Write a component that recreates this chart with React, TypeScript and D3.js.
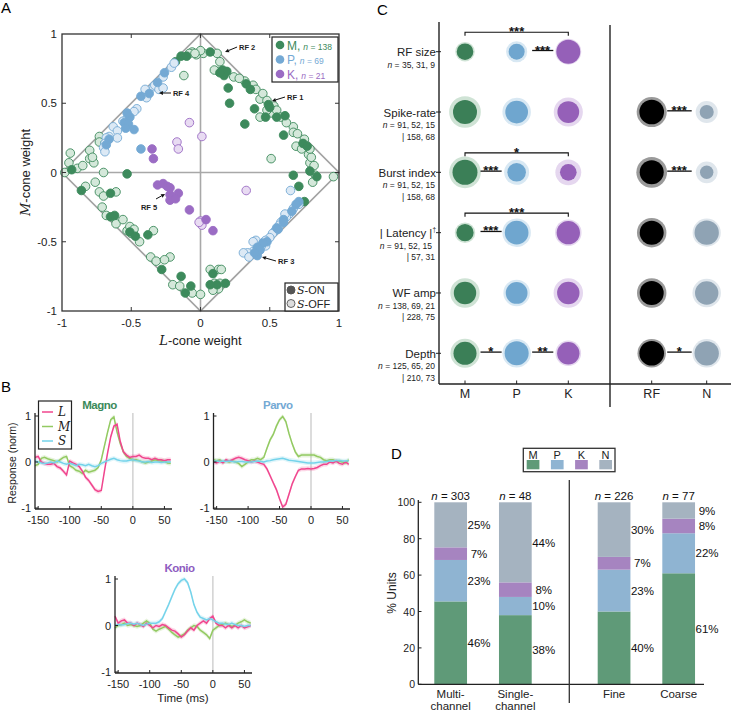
import React from "react";
import * as d3 from "d3";

const FONT = "'Liberation Sans', Arial, Helvetica, sans-serif";
const SERIF = "'DejaVu Serif', 'Liberation Serif', serif";

// ---------------- Panel A data (L-cone weight, M-cone weight) ----------------
const M_ON: number[][] = [
  [0.07, 0.87], [0.16, 0.74], [0.19, 0.73], [0.17, 0.7], [0.2, 0.61], [0.21, 0.5], [0.33, 0.64], [0.36, 0.6],
  [0.49, 0.49], [0.5, 0.47], [0.39, 0.46], [0.47, 0.4], [0.55, 0.4], [0.61, 0.41], [0.32, 0.35], [0.6, 0.27],
  [0.74, 0.21], [0.77, 0.19], [0.79, 0.01], [0.14, 0.72], [-0.14, 0.84], [-0.1, 0.84], [-0.18, 0.8], [-0.93, 0.02],
  [0.67, -0.02], [0.84, -0.03], [0.71, -0.1], [0.75, -0.21], [-0.86, -0.13], [-0.65, -0.15], [-0.53, -0.01],
  [-0.65, -0.32], [-0.62, -0.31], [-0.51, -0.43], [-0.47, -0.46], [-0.38, -0.45], [-0.28, -0.7], [-0.14, -0.75],
  [-0.11, -0.87], [-0.07, -0.82], [0.09, -0.73], [0.12, -0.81], [0.07, -0.81], [0.18, -0.8],
];
const M_OFF: number[][] = [
  [0.12, 0.86], [0.02, 0.86], [-0.06, 0.87], [-0.03, 0.85], [0.0, 0.88], [0.14, 0.8], [0.13, 0.73], [0.1, 0.74],
  [0.24, 0.69], [0.32, 0.66], [0.38, 0.63], [0.4, 0.6], [0.43, 0.53], [0.45, 0.57], [0.48, 0.52], [0.53, 0.48],
  [0.51, 0.43], [0.48, 0.45], [0.55, 0.45], [0.43, 0.4], [0.67, 0.33], [0.67, 0.29], [0.69, 0.19], [0.73, 0.17],
  [0.78, 0.13], [0.79, 0.07], [0.8, 0.11], [0.79, 0.17], [0.51, 0.1], [-0.12, 0.7], [-0.08, 0.86], [-0.04, 0.86],
  [0.28, 0.68], [0.58, 0.4], [0.62, 0.36], [0.7, 0.28], [0.75, 0.24], [0.82, 0.05],
  [-0.98, 0.0], [-0.95, 0.07], [-0.89, 0.03], [-0.94, 0.14], [-0.8, 0.1], [-0.77, 0.07], [-0.7, 0.0],
  [-0.73, 0.26], [-0.8, 0.16], [-0.78, 0.11], [-0.73, 0.22], [-0.69, 0.21], [-0.85, 0.05],
  [0.83, -0.02], [0.81, -0.07], [0.96, -0.03],
  [-0.83, -0.1], [-0.76, -0.07], [-0.73, -0.14], [-0.7, -0.17], [-0.61, -0.14], [-0.71, -0.25], [-0.68, -0.31],
  [-0.61, -0.37], [-0.56, -0.34], [-0.53, -0.42], [-0.5, -0.44], [-0.51, -0.39], [-0.44, -0.5], [-0.34, -0.42],
  [-0.36, -0.61], [-0.32, -0.64], [-0.22, -0.61], [-0.26, -0.63], [-0.2, -0.81], [-0.15, -0.82], [-0.06, -0.87],
  [0.0, -0.88], [-0.48, -0.41],
  [0.07, -0.7], [0.13, -0.7], [0.15, -0.7], [0.1, -0.8], [0.14, -0.8], [0.13, -0.84], [0.09, -0.85],
];
const P_ON: number[][] = [
  [-0.26, 0.72], [-0.31, 0.65], [-0.37, 0.57], [-0.43, 0.55], [-0.51, 0.4], [-0.53, 0.43], [-0.55, 0.36],
  [-0.52, 0.35], [-0.54, 0.32], [-0.48, 0.31], [-0.68, 0.2], [-0.66, 0.24], [-0.43, 0.17],
  [0.71, -0.21], [0.66, -0.28], [0.6, -0.34], [0.55, -0.4], [0.48, -0.5], [0.45, -0.51], [0.41, -0.54],
  [0.41, -0.6], [0.43, -0.56], [0.6, -0.36], [0.69, -0.23], [0.39, -0.58], [0.56, -0.41],
];
const P_OFF: number[][] = [
  [-0.21, 0.76], [-0.19, 0.79], [-0.27, 0.69], [-0.34, 0.62], [-0.33, 0.63], [-0.3, 0.6], [-0.27, 0.61],
  [-0.39, 0.54], [-0.46, 0.46], [-0.48, 0.44], [-0.4, 0.6], [-0.54, 0.38], [-0.56, 0.37], [-0.63, 0.33],
  [-0.6, 0.3], [-0.66, 0.26], [-0.68, 0.25], [-0.69, 0.21], [-0.7, 0.18], [-0.69, 0.15], [-0.6, 0.25],
  [0.65, -0.13], [0.71, -0.23], [0.64, -0.3], [0.62, -0.32], [0.58, -0.36], [0.57, -0.38], [0.54, -0.42],
  [0.52, -0.44], [0.5, -0.47], [0.46, -0.5], [0.43, -0.52], [0.4, -0.49], [0.38, -0.5], [0.38, -0.57],
  [0.34, -0.58], [0.31, -0.58], [0.35, -0.61], [0.47, -0.53], [0.67, -0.26], [0.44, -0.53], [0.47, -0.49],
  [0.61, -0.3],
];
const K_ON: number[][] = [
  [-0.35, 0.17], [-0.34, 0.1], [-0.31, -0.09], [-0.27, -0.08], [-0.24, -0.1], [-0.22, -0.11], [-0.22, -0.16],
  [-0.16, -0.15], [-0.22, -0.2], [-0.18, -0.19], [-0.08, -0.27], [0.04, -0.34], [0.09, -0.42],
];
const K_OFF: number[][] = [
  [-0.08, 0.36], [0.01, 0.26], [-0.17, 0.22], [-0.16, 0.17], [0.33, -0.13], [0.0, -0.35], [0.01, -0.38], [-0.01, -0.36],
];
const A_TICKS = [-1, -0.5, 0, 0.5, 1];
const A_LEGEND = [
  { name: "M,", n: "138" },
  { name: "P,", n: "69" },
  { name: "K,", n: "21" },
];
const RF_LABELS = [
  { label: "RF 2", text: [0.278, 0.885], from: [0.264, 0.906], to: [0.177, 0.87] },
  { label: "RF 1", text: [0.625, 0.523], from: [0.61, 0.545], to: [0.516, 0.516] },
  { label: "RF 4", text: [-0.199, 0.552], from: [-0.213, 0.574], to: [-0.3, 0.574] },
  { label: "RF 3", text: [0.56, -0.66], from: [0.545, -0.639], to: [0.444, -0.61] },
  { label: "RF 5", text: [-0.43, -0.27], from: [-0.321, -0.191], to: [-0.256, -0.155] },
];

// ---------------- Panel B data ----------------
const TIME = d3.range(-155, 61, 5); // -155 ... 60 ms
const MAGNO_L = [0.1, 0.12, 0.0, -0.03, -0.05, -0.05, -0.03, -0.1, -0.13, -0.2, -0.28, 0.02, -0.02, -0.05, -0.1, -0.2, -0.33, -0.4, -0.5, -0.6, -0.64, -0.62, -0.2, 0.2, 0.55, 0.78, 0.82, 0.45, 0.22, 0.15, 0.1, 0.12, 0.12, 0.15, 0.1, 0.08, 0.08, 0.05, 0.08, 0.05, 0.05, 0.03, 0.05, 0.05];
const MAGNO_M = [-0.08, -0.05, 0.08, 0.1, 0.07, 0.05, 0.03, 0.0, 0.05, 0.1, 0.12, -0.08, -0.12, -0.18, -0.2, -0.25, -0.18, -0.22, -0.2, -0.18, -0.12, 0.05, 0.35, 0.65, 0.92, 0.98, 0.65, 0.4, 0.22, 0.12, 0.08, 0.05, 0.05, 0.03, 0.0, -0.02, 0.0, 0.02, 0.05, 0.03, 0.02, 0.02, -0.02, -0.03];
const MAGNO_S = [0.02, 0.0, -0.02, -0.03, -0.02, 0.0, -0.02, 0.02, 0.0, -0.03, -0.05, -0.03, -0.05, -0.08, -0.05, -0.06, -0.08, -0.05, -0.08, -0.1, -0.08, -0.03, 0.0, 0.03, 0.06, 0.08, 0.05, 0.03, 0.02, 0.02, 0.04, 0.05, 0.03, 0.02, 0.0, 0.0, 0.01, -0.01, 0.0, 0.0, -0.01, 0.0, 0.0, 0.0];
const PARVO_L = [0.0, -0.02, 0.02, -0.02, 0.05, 0.02, 0.05, 0.08, 0.1, 0.08, 0.05, 0.03, 0.0, 0.02, 0.0, -0.03, -0.05, -0.15, -0.3, -0.45, -0.6, -0.8, -0.98, -0.92, -0.7, -0.48, -0.32, -0.18, -0.15, -0.15, -0.14, -0.15, -0.14, -0.12, -0.08, -0.05, -0.05, 0.0, -0.02, 0.02, -0.03, -0.05, 0.0, -0.05];
const PARVO_M = [0.05, 0.03, 0.05, 0.0, 0.02, 0.0, 0.02, 0.0, -0.03, -0.1, -0.05, 0.0, 0.05, 0.05, 0.08, 0.05, 0.1, 0.3, 0.48, 0.6, 0.78, 0.92, 0.99, 0.88, 0.62, 0.4, 0.22, 0.12, 0.15, 0.15, 0.15, 0.15, 0.15, 0.12, 0.1, 0.05, 0.03, 0.05, 0.05, 0.02, 0.02, 0.0, -0.02, 0.05];
const PARVO_S = [0.02, 0.02, 0.01, 0.02, 0.01, 0.02, 0.01, 0.0, 0.01, 0.01, 0.0, 0.0, 0.0, 0.01, 0.02, 0.01, 0.0, 0.02, 0.03, 0.05, 0.06, 0.07, 0.08, 0.06, 0.04, 0.03, 0.02, 0.01, 0.0, -0.01, -0.02, -0.02, -0.02, -0.01, 0.0, 0.0, 0.01, 0.02, 0.02, 0.03, 0.03, 0.02, 0.02, 0.03];
const KONIO_L = [0.2, 0.05, 0.1, 0.12, 0.05, 0.05, 0.0, 0.05, 0.02, -0.02, 0.05, 0.0, -0.05, 0.0, -0.02, 0.02, 0.0, -0.05, -0.1, -0.12, -0.18, -0.25, -0.2, -0.12, -0.05, -0.1, 0.0, 0.05, 0.1, 0.05, 0.15, 0.2, 0.05, 0.0, 0.0, -0.05, 0.0, -0.05, 0.0, -0.05, 0.0, -0.05, -0.03, 0.0];
const KONIO_M = [-0.05, 0.0, 0.02, 0.05, 0.0, 0.02, 0.0, -0.02, 0.0, 0.05, 0.1, 0.05, -0.08, -0.12, -0.08, -0.05, -0.02, -0.08, -0.15, -0.2, -0.25, -0.22, -0.18, -0.1, -0.05, 0.0, -0.02, -0.1, -0.15, -0.2, -0.28, -0.1, -0.05, 0.0, 0.02, 0.05, 0.02, -0.02, 0.0, 0.05, 0.08, 0.12, 0.08, 0.05];
const KONIO_S = [0.0, 0.02, 0.01, 0.02, 0.04, 0.05, 0.03, 0.05, 0.02, 0.0, 0.03, 0.05, 0.05, 0.05, 0.08, 0.15, 0.3, 0.45, 0.62, 0.78, 0.9, 0.97, 1.0, 0.92, 0.72, 0.45, 0.28, 0.18, 0.15, 0.12, 0.15, 0.12, 0.08, 0.05, 0.05, 0.03, 0.02, 0.05, 0.02, 0.0, 0.0, -0.02, 0.0, 0.0];
const B_XTICKS = [-150, -100, -50, 0, 50];
const B_YTICKS = [-1, 0, 1];
const CONES = ["L", "M", "S"];

// ---------------- Panel C data ----------------
const C_ROWS = ["RF size", "Spike-rate", "Burst index", "| Latency |", "WF amp", "Depth"];
const C_NLINE = ["= 35, 31, 9", "= 91, 52, 15", "= 91, 52, 15", "= 91, 52, 15", "= 138, 69, 21", "= 125, 65, 20"];
const C_NLINE2 = ["", "| 158, 68", "| 158, 68", "| 57, 31", "| 228, 75", "| 210, 73"];
const C_GROUPS = ["M", "P", "K"];
const C_UNITS = ["RF", "N"];
// normalized marker sizes (inner disc = median, halo = spread)
const C_INNER_MPK = [[0.52, 0.5, 0.75], [0.75, 0.71, 0.68], [0.78, 0.58, 0.52], [0.54, 0.74, 0.73], [0.7, 0.68, 0.7], [0.72, 0.75, 0.7]];
const C_OUTER_MPK = [[0.61, 0.66, 0.81], [0.99, 0.89, 0.91], [0.99, 0.78, 0.81], [0.64, 0.89, 0.83], [0.92, 0.83, 0.92], [0.91, 0.89, 0.8]];
const C_INNER_RN = [null, [0.77, 0.44], [0.75, 0.42], [0.75, 0.76], [0.75, 0.73], [0.77, 0.76]];
const C_OUTER_RN = [null, [0.94, 0.69], [0.96, 0.68], [0.92, 0.88], [0.92, 0.89], [0.89, 0.89]];
const C_SIG = [
  { row: 0, a: "M", b: "K", label: "***", kind: "bracket" },
  { row: 0, a: "P", b: "K", label: "***", kind: "line" },
  { row: 1, a: "RF", b: "N", label: "***", kind: "line" },
  { row: 2, a: "M", b: "K", label: "*", kind: "bracket" },
  { row: 2, a: "M", b: "P", label: "***", kind: "line" },
  { row: 2, a: "RF", b: "N", label: "***", kind: "line" },
  { row: 3, a: "M", b: "K", label: "***", kind: "bracket" },
  { row: 3, a: "M", b: "P", label: "***", kind: "line" },
  { row: 5, a: "M", b: "P", label: "*", kind: "line" },
  { row: 5, a: "P", b: "K", label: "**", kind: "line" },
  { row: 5, a: "RF", b: "N", label: "*", kind: "line" },
];

// ---------------- Panel D data ----------------
const D_GROUPS = ["Multi", "Single", "Fine", "Coarse"];
const D_XLABELS = [["Multi-", "channel"], ["Single-", "channel"], ["Fine"], ["Coarse"]];
const D_N = [303, 48, 226, 77];
const D_CLASSES = ["M", "P", "K", "N"];
const D_PCT_M = [46, 38, 40, 61];
const D_PCT_P = [23, 10, 23, 22];
const D_PCT_K = [7, 8, 7, 8];
const D_PCT_N = [25, 44, 30, 9];
const D_YTICKS = [0, 20, 40, 60, 80, 100];

// ---------------- colours ----------------
const COL = {
  M: "#3d8a5c", Ml: "#d4e8da",
  P: "#74a9d4", Pl: "#dce9f5",
  K: "#9b6cc4", Kl: "#e8dbf2",
};
const CONE_COL: Record<string, string> = { L: "#f0468e", M: "#93ca62", S: "#74d3ea" };
const C_INNER_COL: Record<string, string> = { M: "#3b7f57", P: "#6fa6cf", K: "#9560b8", RF: "#000000", N: "#8fa3b4" };
const C_HALO_COL: Record<string, string> = { M: "#cfe3d5", P: "#d8e8f3", K: "#e5d7ef", RF: "#9a9a9a", N: "#dfe6ec" };
const D_COL: Record<string, string> = { M: "#5f9a78", P: "#8fb4d2", K: "#a684c0", N: "#a5b3c0" };

function PanelA() {
  const x = d3.scaleLinear().domain([-1, 1]).range([62, 339]);
  const y = d3.scaleLinear().domain([-1, 1]).range([311, 34]);
  const diamond = d3.line()([[x(0), y(1)], [x(1), y(0)], [x(0), y(-1)], [x(-1), y(0)]]) + "Z";
  const sets = [
    { pts: M_OFF, fill: COL.Ml, stroke: COL.M },
    { pts: M_ON, fill: COL.M, stroke: COL.M },
    { pts: P_OFF, fill: COL.Pl, stroke: COL.P },
    { pts: P_ON, fill: COL.P, stroke: COL.P },
    { pts: K_OFF, fill: COL.Kl, stroke: COL.K },
    { pts: K_ON, fill: COL.K, stroke: COL.K },
  ];
  const legCols = [COL.M, COL.P, COL.K];
  return (
    <g>
      <text x={1} y={13} fontSize={15}>A</text>
      <line x1={x(0)} x2={x(0)} y1={y(1)} y2={y(-1)} stroke="#a8a8a8" strokeWidth={1.6} />
      <line x1={x(-1)} x2={x(1)} y1={y(0)} y2={y(0)} stroke="#a8a8a8" strokeWidth={1.6} />
      <path d={diamond} fill="none" stroke="#a3a3a3" strokeWidth={1.7} />
      {sets.map((s, i) => (
        <g key={i}>
          {s.pts.map((p, j) => (
            <circle key={j} cx={x(p[0])} cy={y(p[1])} r={4.3} fill={s.fill} stroke={s.stroke} strokeWidth={0.9} />
          ))}
        </g>
      ))}
      <rect x={x(-1)} y={y(1)} width={x(1) - x(-1)} height={y(-1) - y(1)} fill="none" stroke="#333" strokeWidth={1.3} />
      {A_TICKS.slice(1, -1).map((t) => (
        <g key={t} stroke="#333" strokeWidth={1}>
          <line x1={x(t)} x2={x(t)} y1={y(-1)} y2={y(-1) - 4} />
          <line x1={x(t)} x2={x(t)} y1={y(1)} y2={y(1) + 4} />
          <line x1={x(-1)} x2={x(-1) + 4} y1={y(t)} y2={y(t)} />
          <line x1={x(1)} x2={x(1) - 4} y1={y(t)} y2={y(t)} />
        </g>
      ))}
      {A_TICKS.map((t) => (
        <g key={"l" + t} fontSize={11.5} fill="#222">
          <text x={x(t)} y={y(-1) + 16} textAnchor="middle">{t}</text>
          <text x={x(-1) - 5} y={y(t) + 4} textAnchor="end">{t}</text>
        </g>
      ))}
      <text x={x(0)} y={345} textAnchor="middle" fontSize={13} fill="#222">
        <tspan fontStyle="italic" fontFamily={SERIF}>L</tspan>-cone weight
      </text>
      <text transform={`translate(30,${y(0)}) rotate(-90)`} textAnchor="middle" fontSize={13} fill="#222">
        <tspan fontStyle="italic" fontFamily={SERIF}>M</tspan>-cone weight
      </text>
      {/* class legend */}
      <rect x={272} y={37} width={66} height={45} fill="white" stroke="#222" strokeWidth={1.2} />
      {A_LEGEND.map((d, i) => (
        <g key={d.name}>
          <circle cx={280} cy={45 + i * 14.5} r={4.3} fill={legCols[i]} />
          <text x={287} y={49.5 + i * 14.5} fontSize={12} fill={legCols[i]}>
            {d.name}
            <tspan fontSize={8.5} dx={3}><tspan fontStyle="italic">n</tspan> = {d.n}</tspan>
          </text>
        </g>
      ))}
      {/* S legend */}
      <rect x={285} y={283} width={53} height={28} fill="white" stroke="#222" strokeWidth={1.2} />
      <circle cx={291} cy={290} r={4} fill="#555" stroke="#555" />
      <circle cx={291} cy={303.5} r={4} fill="#ddd" stroke="#555" strokeWidth={0.9} />
      <text x={297} y={294} fontSize={11} fill="#222"><tspan fontStyle="italic" fontFamily={SERIF}>S</tspan>-ON</text>
      <text x={297} y={307.5} fontSize={11} fill="#222"><tspan fontStyle="italic" fontFamily={SERIF}>S</tspan>-OFF</text>
      {RF_LABELS.map((r) => {
        const fx = x(r.from[0]), fy = y(r.from[1]), tx = x(r.to[0]), ty = y(r.to[1]);
        const ang = Math.atan2(ty - fy, tx - fx);
        const hl = 4, hw = 2;
        const bx = tx - hl * Math.cos(ang), by = ty - hl * Math.sin(ang);
        const head = `${tx},${ty} ${bx + hw * Math.sin(ang)},${by - hw * Math.cos(ang)} ${bx - hw * Math.sin(ang)},${by + hw * Math.cos(ang)}`;
        return (
          <g key={r.label}>
            <line x1={fx} y1={fy} x2={bx} y2={by} stroke="#111" strokeWidth={1} />
            <polygon points={head} fill="#111" />
            <text x={x(r.text[0])} y={y(r.text[1])} fontSize={7.5} fontWeight="bold" fill="#222">{r.label}</text>
          </g>
        );
      })}
    </g>
  );
}

function BPlot(props: { left: number; right: number; top: number; bottom: number; title: string; color: string; data: number[][] }) {
  const { left, right, top, bottom, title, color, data } = props;
  const x = d3.scaleLinear().domain([-155, 62]).range([left, right]);
  const y = d3.scaleLinear().domain([-1, 1]).range([bottom, top]);
  const line = d3.line<number>().x((_, i) => x(TIME[i])).y((v) => y(v));
  const band = d3.area<number>().x((_, i) => x(TIME[i])).y0((v) => y(v - 0.05)).y1((v) => y(v + 0.05));
  return (
    <g>
      <text x={(left + right) / 2 - 4} y={top - 7} textAnchor="middle" fontSize={11.5} fontWeight="bold" fill={color} letterSpacing={-0.5}>{title}</text>
      <line x1={x(0)} x2={x(0)} y1={top - 3} y2={bottom} stroke="#d4d4d4" strokeWidth={1.6} />
      {data.map((s, i) => (
        <path key={"b" + i} d={band(s) || ""} fill={CONE_COL[CONES[i]]} opacity={0.22} />
      ))}
      {[1, 0, 2].map((i) => (
        <path key={"l" + i} d={line(data[i]) || ""} fill="none" stroke={CONE_COL[CONES[i]]} strokeWidth={1.5} />
      ))}
      <line x1={left} x2={left} y1={top - 3} y2={bottom + 1} stroke="#222" strokeWidth={1.3} />
      <line x1={left} x2={right} y1={bottom + 1} y2={bottom + 1} stroke="#222" strokeWidth={1.3} />
      {B_XTICKS.map((t) => (
        <g key={t}>
          <line x1={x(t)} x2={x(t)} y1={bottom + 1} y2={bottom - 2} stroke="#222" />
          <text x={x(t)} y={bottom + 16} textAnchor="middle" fontSize={11} fill="#222">{t}</text>
        </g>
      ))}
      {B_YTICKS.map((t) => (
        <g key={t}>
          <line x1={left} x2={left + 3} y1={y(t)} y2={y(t)} stroke="#222" />
          <text x={left - 4} y={y(t) + 4} textAnchor="end" fontSize={11} fill="#222">{t}</text>
        </g>
      ))}
    </g>
  );
}

function PanelB() {
  return (
    <g>
      <text x={1} y={392} fontSize={15}>B</text>
      <BPlot left={35} right={172} top={416} bottom={508} title="Magno" color="#3b8a5a" data={[MAGNO_L, MAGNO_M, MAGNO_S]} />
      <BPlot left={213.5} right={350} top={416} bottom={508} title="Parvo" color="#74a9d4" data={[PARVO_L, PARVO_M, PARVO_S]} />
      <BPlot left={115} right={252} top={579} bottom={672} title="Konio" color="#8e5cbf" data={[KONIO_L, KONIO_M, KONIO_S]} />
      <rect x={38.5} y={401} width={33} height={48} fill="white" stroke="#222" strokeWidth={1.2} />
      {CONES.map((c, i) => (
        <g key={c}>
          <line x1={42} x2={53} y1={412 + i * 14.5} y2={412 + i * 14.5} stroke={CONE_COL[c]} strokeWidth={1.5} />
          <text x={58} y={416 + i * 14.5} fontSize={12} fontStyle="italic" fontFamily={SERIF} fill="#222">{c}</text>
        </g>
      ))}
      <text transform="translate(16,463) rotate(-90)" textAnchor="middle" fontSize={10.5} fill="#222">Response (norm)</text>
      <text x={183} y={702} textAnchor="middle" fontSize={11.5} fill="#222">Time (ms)</text>
    </g>
  );
}

function PanelC() {
  const rowY = d3.scalePoint<string>().domain(C_ROWS).range([51.7, 353.3]);
  const xg = d3.scalePoint<string>().domain(C_GROUPS).range([465, 568.3]);
  const xu = d3.scalePoint<string>().domain(C_UNITS).range([651.7, 706.7]);
  const r = d3.scaleLinear().domain([0, 1]).range([0, 16]);
  const colX = (k: string) => (C_GROUPS.includes(k) ? (xg(k) as number) : (xu(k) as number));
  const axisL = 439, axisB = 384, divX = 610;
  return (
    <g>
      <text x={377} y={15} fontSize={15}>C</text>
      {C_ROWS.map((row, i) => {
        const yy = rowY(row) as number;
        const dag = row.startsWith("|");
        return (
          <g key={row}>
            <text x={axisL - 3} y={yy + 4.5} textAnchor="end" fontSize={11.5} fill="#222">
              {row}
              {dag ? <tspan fontSize={6.5} dy={-5}>†</tspan> : null}
            </text>
            <text x={axisL - (dag ? 7 : 4)} y={yy + 16} textAnchor="end" fontSize={8.5} fill="#222">
              <tspan fontStyle="italic">n</tspan> {C_NLINE[i]}
            </text>
            {C_NLINE2[i] ? (
              <text x={axisL - 4} y={yy + 27.5} textAnchor="end" fontSize={8.5} fill="#222">{C_NLINE2[i]}</text>
            ) : null}
            <line x1={axisL - 3} x2={axisL + 2} y1={yy} y2={yy} stroke="#222" strokeWidth={1} />
            {C_GROUPS.map((g, j) => (
              <g key={g}>
                <circle cx={xg(g)} cy={yy} r={r(C_OUTER_MPK[i][j])} fill={C_HALO_COL[g]} />
                <circle cx={xg(g)} cy={yy} r={r(C_INNER_MPK[i][j])} fill={C_INNER_COL[g]} />
              </g>
            ))}
            {C_INNER_RN[i]
              ? C_UNITS.map((u, j) => (
                  <g key={u}>
                    <circle cx={xu(u)} cy={yy} r={r((C_OUTER_RN[i] as number[])[j])} fill={C_HALO_COL[u]} />
                    <circle cx={xu(u)} cy={yy} r={r((C_INNER_RN[i] as number[])[j])} fill={C_INNER_COL[u]} />
                  </g>
                ))
              : null}
          </g>
        );
      })}
      {C_SIG.map((s, i) => {
        const yy = rowY(C_ROWS[s.row]) as number;
        const xa = colX(s.a), xb = colX(s.b);
        if (s.kind === "bracket") {
          const by = yy - 19.5;
          return (
            <g key={i}>
              <path d={`M${xa},${by + 3.5}V${by}H${xb}V${by + 3.5}`} fill="none" stroke="#111" strokeWidth={1.1} />
              <text x={(xa + xb) / 2} y={by + 4} textAnchor="middle" fontSize={13} fontWeight="bold" fill="#111">{s.label}</text>
            </g>
          );
        }
        const ly = yy - 1.2;
        return (
          <g key={i}>
            <line x1={xa + 15.5} x2={xb - 15} y1={ly} y2={ly} stroke="#111" strokeWidth={1.3} />
            <text x={(xa + xb) / 2} y={ly + 4} textAnchor="middle" fontSize={13} fontWeight="bold" fill="#111">{s.label}</text>
          </g>
        );
      })}
      <line x1={axisL} x2={axisL} y1={22} y2={axisB} stroke="#222" strokeWidth={1.4} />
      <line x1={axisL} x2={731} y1={axisB} y2={axisB} stroke="#222" strokeWidth={1.4} />
      <line x1={divX} x2={divX} y1={25} y2={407} stroke="#222" strokeWidth={1.4} />
      {[...C_GROUPS, ...C_UNITS].map((k) => (
        <g key={k}>
          <line x1={colX(k)} x2={colX(k)} y1={axisB} y2={axisB - 3.5} stroke="#222" />
          <text x={colX(k)} y={398} textAnchor="middle" fontSize={12.5} fill="#222">{k}</text>
        </g>
      ))}
    </g>
  );
}

function PanelD() {
  const y = d3.scaleLinear().domain([0, 100]).range([684.3, 502.3]);
  const xl = d3.scaleBand<string>().domain(D_GROUPS.slice(0, 2)).range([434.3, 531.7]).paddingInner(0.494);
  const xr = d3.scaleBand<string>().domain(D_GROUPS.slice(2)).range([597.7, 695]).paddingInner(0.494);
  const bx = (g: string, i: number) => (i < 2 ? (xl(g) as number) : (xr(g) as number));
  const bw = xl.bandwidth();
  const rows = D_GROUPS.map((g, i) => {
    const vals = [D_PCT_M[i], D_PCT_P[i], D_PCT_K[i], D_PCT_N[i]];
    const tot = d3.sum(vals);
    return { g, i, vals, norm: vals.map((v) => (v * 100) / tot) };
  });
  const stack = d3.stack<any>().keys([0, 1, 2, 3] as any).value((d: any, k: any) => d.norm[k]);
  const series = stack(rows);
  return (
    <g>
      <text x={391} y={458.5} fontSize={15}>D</text>
      <rect x={523.3} y={448.3} width={91.7} height={23.4} fill="white" stroke="#333" strokeWidth={1.3} />
      {D_CLASSES.map((c, i) => (
        <g key={c}>
          <text x={533 + i * 24.2} y={458.5} textAnchor="middle" fontSize={11} fill="#222">{c}</text>
          <rect x={526.7 + i * 24.2} y={460} width={12.7} height={9.3} fill={D_COL[c]} />
        </g>
      ))}
      {series.map((s, k) => (
        <g key={k}>
          {s.map((d, j) => {
            const g = rows[j].g;
            const x0 = bx(g, j);
            return (
              <g key={g}>
                <rect x={x0} width={bw} y={y(d[1])} height={y(d[0]) - y(d[1])} fill={D_COL[D_CLASSES[k]]} />
                <text x={x0 + bw + 12} y={y((d[0] + d[1]) / 2) + 4.2} textAnchor="middle" fontSize={11.5} fill="#111">
                  {rows[j].vals[k]}%
                </text>
              </g>
            );
          })}
        </g>
      ))}
      {rows.map((r) => (
        <g key={r.g}>
          <text x={bx(r.g, r.i) + bw / 2} y={500} textAnchor="middle" fontSize={11.5} fill="#111">
            <tspan fontStyle="italic">n</tspan> = {D_N[r.i]}
          </text>
          {D_XLABELS[r.i].map((t, li) => (
            <text key={li} x={bx(r.g, r.i) + bw / 2} y={697.5 + li * 12.5} textAnchor="middle" fontSize={11.5} fill="#222">{t}</text>
          ))}
        </g>
      ))}
      <line x1={418.3} x2={418.3} y1={500} y2={684.3} stroke="#222" strokeWidth={1.3} />
      <line x1={418.3} x2={704} y1={684.3} y2={684.3} stroke="#222" strokeWidth={1.3} />
      <line x1={569.3} x2={569.3} y1={480} y2={703} stroke="#333" strokeWidth={1.3} />
      {D_YTICKS.map((t) => (
        <g key={t}>
          <line x1={418.3} x2={421.5} y1={y(t)} y2={y(t)} stroke="#222" />
          <text x={415} y={y(t) + 4} textAnchor="end" fontSize={10.5} fill="#222">{t}</text>
        </g>
      ))}
      <text transform="translate(396,593) rotate(-90)" textAnchor="middle" fontSize={12} fill="#222">% Units</text>
    </g>
  );
}

export default function App() {
  return (
    <svg width={731} height={711} style={{ position: "absolute", left: 0, top: 0, display: "block" }} fontFamily={FONT}>
      <rect width={731} height={711} fill="white" />
      <PanelA />
      <PanelB />
      <PanelC />
      <PanelD />
    </svg>
  );
}
